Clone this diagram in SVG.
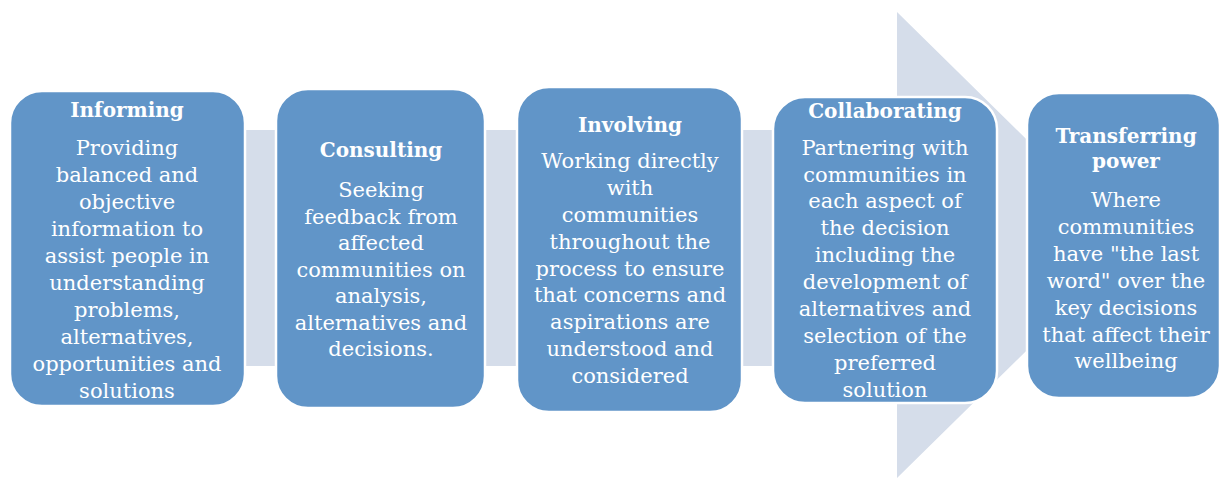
<svg xmlns="http://www.w3.org/2000/svg" width="1222" height="481" viewBox="0 0 1222 481">
<style>
.bg{fill:#D5DDEA}
.box{fill:#6195C8;stroke:#FFFFFF;stroke-width:2.5}
text{font-family:"DejaVu Serif","Liberation Serif",serif;fill:#FFFFFF;text-anchor:middle}
.t{font-size:20px;font-weight:bold}
.b{font-size:21px}
</style>
<g id="connectors">
<path class="bg" d="M10,130 L897,130 L897,12 L1134,245 L897,478 L897,366 L10,366 Z"/>
</g>
<g id="node1">
<rect class="box" x="10" y="91" width="235" height="315" rx="32"/>
<text class="t" x="127" y="117">Informing</text>
<text class="b" x="127" y="155">Providing</text>
<text class="b" x="127" y="182">balanced and</text>
<text class="b" x="127" y="209">objective</text>
<text class="b" x="127" y="236">information to</text>
<text class="b" x="127" y="263">assist people in</text>
<text class="b" x="127" y="290">understanding</text>
<text class="b" x="127" y="317">problems,</text>
<text class="b" x="127" y="344">alternatives,</text>
<text class="b" x="127" y="371">opportunities and</text>
<text class="b" x="127" y="398">solutions</text>
</g>
<g id="node2">
<rect class="box" x="276" y="89" width="209" height="319" rx="32"/>
<text class="t" x="381" y="157">Consulting</text>
<text class="b" x="381" y="197">Seeking</text>
<text class="b" x="381" y="223.5">feedback from</text>
<text class="b" x="381" y="250">affected</text>
<text class="b" x="381" y="276.5">communities on</text>
<text class="b" x="381" y="303">analysis,</text>
<text class="b" x="381" y="329.5">alternatives and</text>
<text class="b" x="381" y="356">decisions.</text>
</g>
<g id="node3">
<rect class="box" x="517" y="87" width="225" height="325" rx="32"/>
<text class="t" x="630" y="132">Involving</text>
<text class="b" x="630" y="168">Working directly</text>
<text class="b" x="630" y="195">with</text>
<text class="b" x="630" y="222">communities</text>
<text class="b" x="630" y="249">throughout the</text>
<text class="b" x="630" y="276">process to ensure</text>
<text class="b" x="630" y="302">that concerns and</text>
<text class="b" x="630" y="329">aspirations are</text>
<text class="b" x="630" y="356">understood and</text>
<text class="b" x="630" y="383">considered</text>
</g>
<g id="node4">
<rect class="box" x="773" y="97" width="224" height="306" rx="32"/>
<text class="t" x="885" y="118">Collaborating</text>
<text class="b" x="885" y="155">Partnering with</text>
<text class="b" x="885" y="182">communities in</text>
<text class="b" x="885" y="208">each aspect of</text>
<text class="b" x="885" y="235">the decision</text>
<text class="b" x="885" y="262">including the</text>
<text class="b" x="885" y="289">development of</text>
<text class="b" x="885" y="316">alternatives and</text>
<text class="b" x="885" y="343">selection of the</text>
<text class="b" x="885" y="370">preferred</text>
<text class="b" x="885" y="397">solution</text>
</g>
<g id="node5">
<rect class="box" x="1027" y="93" width="193" height="305" rx="32"/>
<text class="t" x="1126" y="143">Transferring</text>
<text class="t" x="1126" y="168">power</text>
<text class="b" x="1126" y="207">Where</text>
<text class="b" x="1126" y="234">communities</text>
<text class="b" x="1126" y="261">have "the last</text>
<text class="b" x="1126" y="288">word" over the</text>
<text class="b" x="1126" y="315">key decisions</text>
<text class="b" x="1126" y="342">that affect their</text>
<text class="b" x="1126" y="368">wellbeing</text>
</g>
</svg>
